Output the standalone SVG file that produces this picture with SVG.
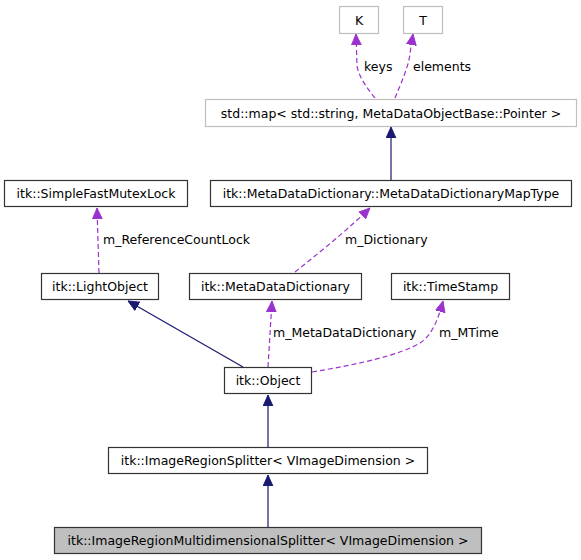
<svg xmlns="http://www.w3.org/2000/svg" width="581" height="560" viewBox="0 0 581 560">
<style>
  .node rect { fill: #ffffff; stroke: #333333; stroke-width: 1.2; }
  .node.ext rect { stroke: #bfbfbf; }
  .node.cur rect { fill: #bfbfbf; }
  text { font-family: "DejaVu Sans", "Liberation Sans", sans-serif; font-size: 12.5px; fill: #000000; }
  .node text { text-anchor: middle; }
  .inh { fill: none; stroke: #191970; stroke-width: 1.2; marker-end: url(#ah-blue); }
  .use { fill: none; stroke: #9a32cd; stroke-width: 1.2; stroke-dasharray: 5,3; marker-end: url(#ah-purple); }
</style>
<defs>
  <marker id="ah-blue" viewBox="0 0 10 10" refX="10" refY="5" markerWidth="11" markerHeight="11" markerUnits="userSpaceOnUse" orient="auto">
    <path d="M0,0.5 L10,5 L0,9.5 z" fill="#191970" stroke="#191970" stroke-width="0.8"/>
  </marker>
  <marker id="ah-purple" viewBox="0 0 10 10" refX="10" refY="5" markerWidth="11" markerHeight="11" markerUnits="userSpaceOnUse" orient="auto">
    <path d="M0,0.5 L10,5 L0,9.5 z" fill="#9a32cd" stroke="#9a32cd" stroke-width="0.8" stroke-dasharray="none"/>
  </marker>
</defs>
<rect width="581" height="560" fill="#ffffff"/>
<g id="connectors">
  <path class="inh" d="M391,180 L391,127"/>
  <path class="use" d="M375,98 C367,88 359,77 357,66 L356,34"/>
  <path class="use" d="M395,98 C400,86 406,72 409,60 L413,34"/>
  <path class="use" d="M99,273 L97,208"/>
  <path class="use" d="M295,272 C320,252 345,232 370,208"/>
  <path class="inh" d="M243,367 L128,301"/>
  <path class="use" d="M268,367 L272,301"/>
  <path class="use" d="M312,372 C360,364 400,355 420,343 C432,335 438,320 443,301"/>
  <path class="inh" d="M268,447 L268,395"/>
  <path class="inh" d="M268,527 L268,475"/>
  <text x="364" y="71">keys</text>
  <text x="413" y="71">elements</text>
  <text x="103" y="244">m_ReferenceCountLock</text>
  <text x="345" y="244">m_Dictionary</text>
  <text x="273" y="337">m_MetaDataDictionary</text>
  <text x="439" y="337">m_MTime</text>
</g>
<g id="node-K" class="node ext"><rect x="339.5" y="6.5" width="39" height="27"/><text x="359" y="24.5">K</text></g>
<g id="node-T" class="node ext"><rect x="403.5" y="6.5" width="39" height="27"/><text x="423" y="24.5">T</text></g>
<g id="node-stdmap" class="node ext"><rect x="205.5" y="99.5" width="371" height="27"/><text x="391" y="117.5">std::map&lt; std::string, MetaDataObjectBase::Pointer &gt;</text></g>
<g id="node-MapType" class="node"><rect x="210.5" y="180.5" width="361" height="26"/><text x="391" y="198">itk::MetaDataDictionary::MetaDataDictionaryMapType</text></g>
<g id="node-Mutex" class="node"><rect x="4.5" y="180.5" width="183" height="26"/><text x="96" y="198">itk::SimpleFastMutexLock</text></g>
<g id="node-LightObject" class="node"><rect x="41.5" y="273.5" width="117" height="26"/><text x="100" y="291">itk::LightObject</text></g>
<g id="node-MetaDataDictionary" class="node"><rect x="189.5" y="273.5" width="172" height="26"/><text x="275.5" y="291">itk::MetaDataDictionary</text></g>
<g id="node-TimeStamp" class="node"><rect x="391.5" y="273.5" width="118" height="26"/><text x="450.5" y="291">itk::TimeStamp</text></g>
<g id="node-Object" class="node"><rect x="224.5" y="367.5" width="87" height="26"/><text x="268" y="385">itk::Object</text></g>
<g id="node-Splitter" class="node"><rect x="108.5" y="447.5" width="319" height="26"/><text x="268" y="465">itk::ImageRegionSplitter&lt; VImageDimension &gt;</text></g>
<g id="node-Multi" class="node cur"><rect x="54.5" y="527.5" width="427" height="26"/><text x="268" y="545">itk::ImageRegionMultidimensionalSplitter&lt; VImageDimension &gt;</text></g>
</svg>
